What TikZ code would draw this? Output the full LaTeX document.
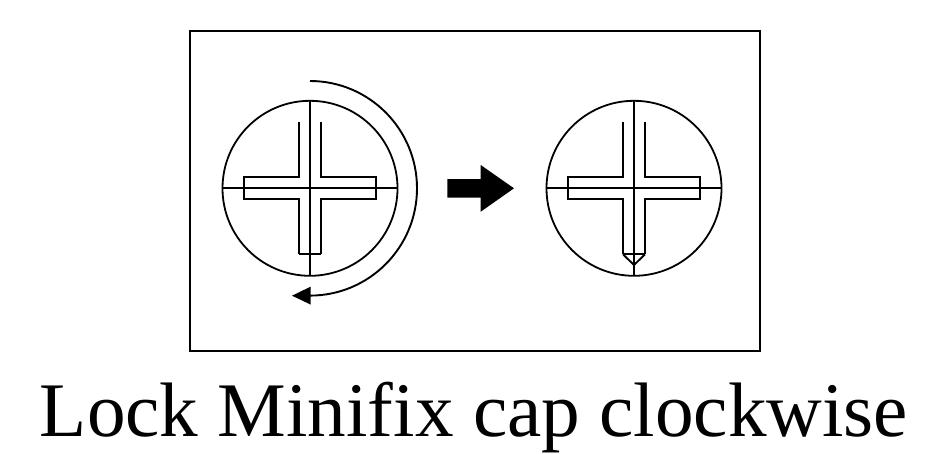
\documentclass[tikz,border=0pt]{standalone}
\usepackage{fontspec}
\setmainfont{Liberation Serif}
\tikzset{
  ink/.style={draw=black,line width=1.9pt,line join=miter},
  thinink/.style={draw=black,line width=1.8pt},
  solidink/.style={fill=black,draw=none}
}
\newcommand{\capcross}[1]{%
  \begin{scope}[shift={(#1,188.3)}]
    \draw[thinink] (0,0) circle (87.5);
    \draw[thinink] (-88,0) -- (88,0);
    \draw[thinink] (0,-88) -- (0,88);
    \draw[ink] (-11,-66.5) -- (-11,-11) -- (-66,-11) -- (-66,11) -- (-11,11) -- (-11,66);
    \draw[ink] (11,-66.5) -- (11,-11) -- (66,-11) -- (66,11) -- (11,11) -- (11,66);
  \end{scope}}
\begin{document}
\begin{tikzpicture}[x=1pt,y=-1pt]
  \useasboundingbox (0,0) rectangle (925,453);
  \draw[thinink] (190,31) rectangle (760,351);
  \capcross{310}
  \capcross{634}
  % left cross foot
  \draw[ink] (299,254.3) -- (321,254.3);
  % right cross pointed foot
  \draw[ink] (623,254.3) -- (645,254.3);
  \draw[ink] (623,254.3) -- (634,265) -- (645,254.3);
  % rotation arc
  \draw[ink] (310,81) arc[start angle=-90,end angle=90,x radius=107,y radius=107.3];
  \fill[solidink] (292,295.7) -- (310.5,286.7) -- (310.5,304.5) -- cycle;
  % block arrow
  \fill[solidink] (447.3,179) -- (480.7,179) -- (480.7,165) -- (514,188.3) -- (480.7,211.7) -- (480.7,197.7) -- (447.3,197.7) -- cycle;
  \node[inner sep=0pt,anchor=base,font=\fontsize{77.2}{90}\selectfont] (title) at (474,436) {Lock Minifix cap clockwise};
\end{tikzpicture}
\end{document}
